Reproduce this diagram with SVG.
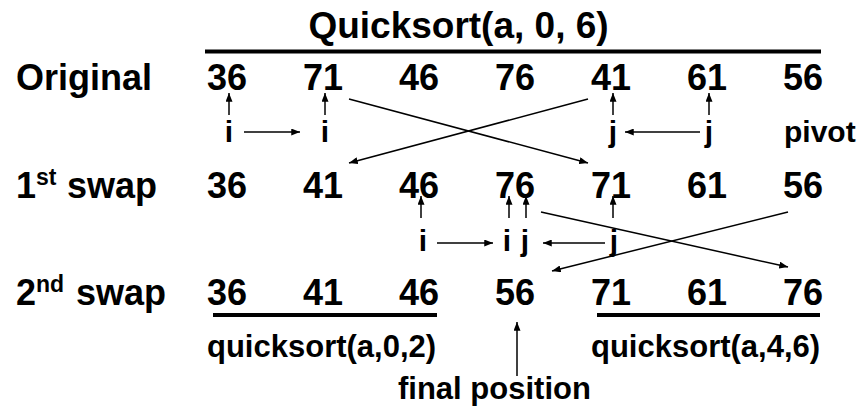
<svg xmlns="http://www.w3.org/2000/svg" width="865" height="413" viewBox="0 0 865 413">
<style>
text{font-family:"Liberation Sans",Arial,sans-serif;font-weight:bold;fill:#000}
.big{font-size:36px}
.lbl{font-size:30px}
.sub{font-size:31px}
.sup{font-size:23px}
.ln{stroke:#000;stroke-width:1.5;fill:none}
.bar{stroke:#000;stroke-width:4;fill:none}
</style>
<defs>
<marker id="ah" viewBox="0 0 10 8" refX="10" refY="4" markerWidth="9" markerHeight="7" orient="auto" markerUnits="userSpaceOnUse"><path d="M0,0 L10,4 L0,8 z" fill="#000"/></marker>
</defs>
<g id="title">
<text class="big" x="458.5" y="38" text-anchor="middle" style="font-size:37px">Quicksort(a, 0, 6)</text>
<line class="bar" x1="205" y1="51.5" x2="821" y2="51.5"/>
</g>
<g id="row-original">
<text class="big" x="16" y="90">Original</text>
<text class="big" x="207" y="90">36</text>
<text class="big" x="303" y="90">71</text>
<text class="big" x="399" y="90">46</text>
<text class="big" x="495" y="90">76</text>
<text class="big" x="591" y="90">41</text>
<text class="big" x="687" y="90">61</text>
<text class="big" x="783" y="90">56</text>
</g>
<g id="labels-1">
<text class="lbl" x="229" y="142" text-anchor="middle">i</text>
<text class="lbl" x="325" y="142" text-anchor="middle">i</text>
<text class="lbl" x="613" y="142" text-anchor="middle">j</text>
<text class="lbl" x="709" y="142" text-anchor="middle">j</text>
<text class="lbl" x="784" y="142">pivot</text>
</g>
<g id="row-swap1">
<text class="big" x="16" y="198">1<tspan class="sup" dy="-13">st</tspan></text>
<text class="big" x="67" y="198">swap</text>
<text class="big" x="207" y="198">36</text>
<text class="big" x="303" y="198">41</text>
<text class="big" x="399" y="198">46</text>
<text class="big" x="495" y="198">76</text>
<text class="big" x="591" y="198">71</text>
<text class="big" x="687" y="198">61</text>
<text class="big" x="783" y="198">56</text>
</g>
<g id="labels-2">
<text class="lbl" x="423" y="251" text-anchor="middle">i</text>
<text class="lbl" x="507" y="251" text-anchor="middle">i</text>
<text class="lbl" x="525" y="251" text-anchor="middle">j</text>
<text class="lbl" x="614" y="251" text-anchor="middle">j</text>
</g>
<g id="row-swap2">
<text class="big" x="16" y="305">2<tspan class="sup" dy="-13">nd</tspan></text>
<text class="big" x="76" y="305">swap</text>
<text class="big" x="207" y="305">36</text>
<text class="big" x="303" y="305">41</text>
<text class="big" x="399" y="305">46</text>
<text class="big" x="495" y="305">56</text>
<text class="big" x="591" y="305">71</text>
<text class="big" x="687" y="305">61</text>
<text class="big" x="783" y="305">76</text>
<line class="bar" x1="213" y1="315" x2="437" y2="315"/>
<line class="bar" x1="597" y1="315" x2="820" y2="315"/>
</g>
<g id="sub-labels">
<text class="sub" x="207" y="357">quicksort(a,0,2)</text>
<text class="sub" x="591" y="357">quicksort(a,4,6)</text>
<text class="sub" x="398" y="399">final position</text>
</g>
<g id="connectors">
<line class="ln" x1="229" y1="115" x2="229" y2="93" marker-end="url(#ah)"/>
<line class="ln" x1="325" y1="115" x2="325" y2="93" marker-end="url(#ah)"/>
<line class="ln" x1="613" y1="115" x2="613" y2="93" marker-end="url(#ah)"/>
<line class="ln" x1="709" y1="115" x2="709" y2="93" marker-end="url(#ah)"/>
<line class="ln" x1="244" y1="132" x2="300" y2="132" marker-end="url(#ah)"/>
<line class="ln" x1="700" y1="132" x2="625" y2="132" marker-end="url(#ah)"/>
<line class="ln" x1="349" y1="99" x2="588" y2="163" marker-end="url(#ah)"/>
<line class="ln" x1="588" y1="99" x2="349" y2="163" marker-end="url(#ah)"/>
<line class="ln" x1="421" y1="218" x2="421" y2="196" marker-end="url(#ah)"/>
<line class="ln" x1="509" y1="218" x2="509" y2="196" marker-end="url(#ah)"/>
<line class="ln" x1="526" y1="218" x2="526" y2="196" marker-end="url(#ah)"/>
<line class="ln" x1="613" y1="218" x2="613" y2="196" marker-end="url(#ah)"/>
<line class="ln" x1="437" y1="243" x2="493" y2="243" marker-end="url(#ah)"/>
<line class="ln" x1="605" y1="243" x2="543" y2="243" marker-end="url(#ah)"/>
<line class="ln" x1="541" y1="212" x2="788" y2="267" marker-end="url(#ah)"/>
<line class="ln" x1="788" y1="212" x2="552" y2="271" marker-end="url(#ah)"/>
<line class="ln" x1="517" y1="376" x2="517" y2="322" marker-end="url(#ah)"/>
</g>
</svg>
